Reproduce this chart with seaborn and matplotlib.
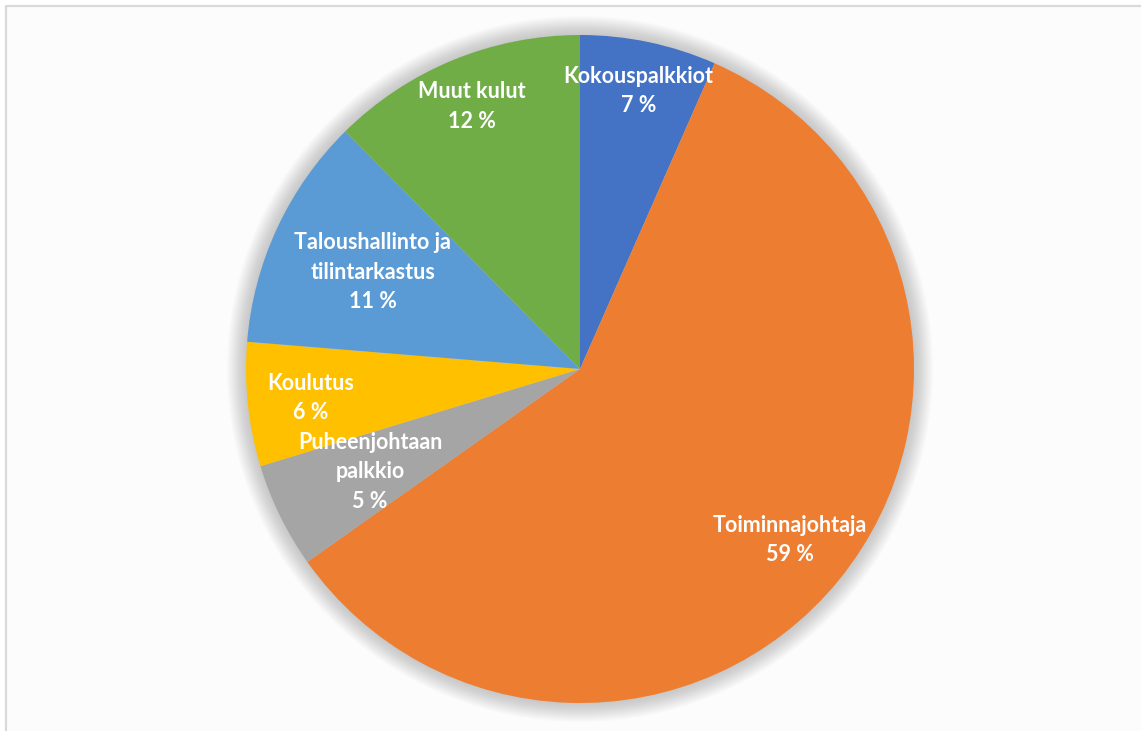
import numpy as np
import matplotlib
matplotlib.use('Agg')
import matplotlib.pyplot as plt
from matplotlib.patches import Rectangle, Circle
import seaborn as sns

# data
categories = ['Kokouspalkkiot', 'Toiminnajohtaja', 'Puheenjohtaan\npalkkio',
              'Koulutus', 'Taloushallinto ja\ntilintarkastus', 'Muut kulut']
shares = [6.6, 58.6, 5.1, 6.0, 11.3, 12.4]
colors = ['#4472C4', '#ED7D31', '#A5A5A5', '#FFC000', '#5B9BD5', '#70AD47']

# label distance from centre (fraction of radius)
label_dist = [0.85, 0.81, 0.70, 0.81, 0.685, 0.85]

sns.set_theme(style='white')
plt.rcParams['font.family'] = ['Lato', 'DejaVu Sans']
plt.rcParams['hatch.color'] = '#f1f1f1'
plt.rcParams['hatch.linewidth'] = 2.0

W, H = 1141, 731
fig = plt.figure(figsize=(W / 100, H / 100), dpi=100)
fig.patch.set_facecolor('white')

# background with faint diagonal stripes + frame (left and top edges only)
bg_ax = fig.add_axes([0, 0, 1, 1], zorder=-1)
bg_ax.set_xlim(0, W)
bg_ax.set_ylim(H, 0)
bg_ax.axis('off')
bg_ax.add_patch(Rectangle((6, 6), W, H, facecolor='#fcfcfc', edgecolor='none',
                          hatch='\\\\'))
bg_ax.plot([6, 6, W], [H, 6, 6], color='#d9d9d9', lw=1.6)

cx, cy, R = 580, H - 369, 334
ax = fig.add_axes([(cx - R) / W, (cy - R) / H, 2 * R / W, 2 * R / H])
ax.patch.set_alpha(0)

# soft shadow around the pie
for i in range(20):
    ax.add_patch(Circle((0, 0), 1 + 0.003 * i, color='#808080', alpha=0.022,
                        lw=0, zorder=0, clip_on=False))

wedges, _ = ax.pie(shares, colors=sns.color_palette(colors), startangle=90,
                   counterclock=False, radius=1, frame=True,
                   wedgeprops=dict(linewidth=0))
ax.set_xlim(-1, 1)
ax.set_ylim(-1, 1)
ax.axis('off')

for w, cat, v, d in zip(wedges, categories, shares, label_dist):
    ang = np.deg2rad((w.theta1 + w.theta2) / 2)
    ax.text(d * np.cos(ang), d * np.sin(ang), f'{cat}\n{v:.0f} %',
            ha='center', va='center', color='white', fontsize=15.5,
            fontweight='bold', linespacing=1.5, zorder=5)

plt.savefig('out.png', dpi=100)
